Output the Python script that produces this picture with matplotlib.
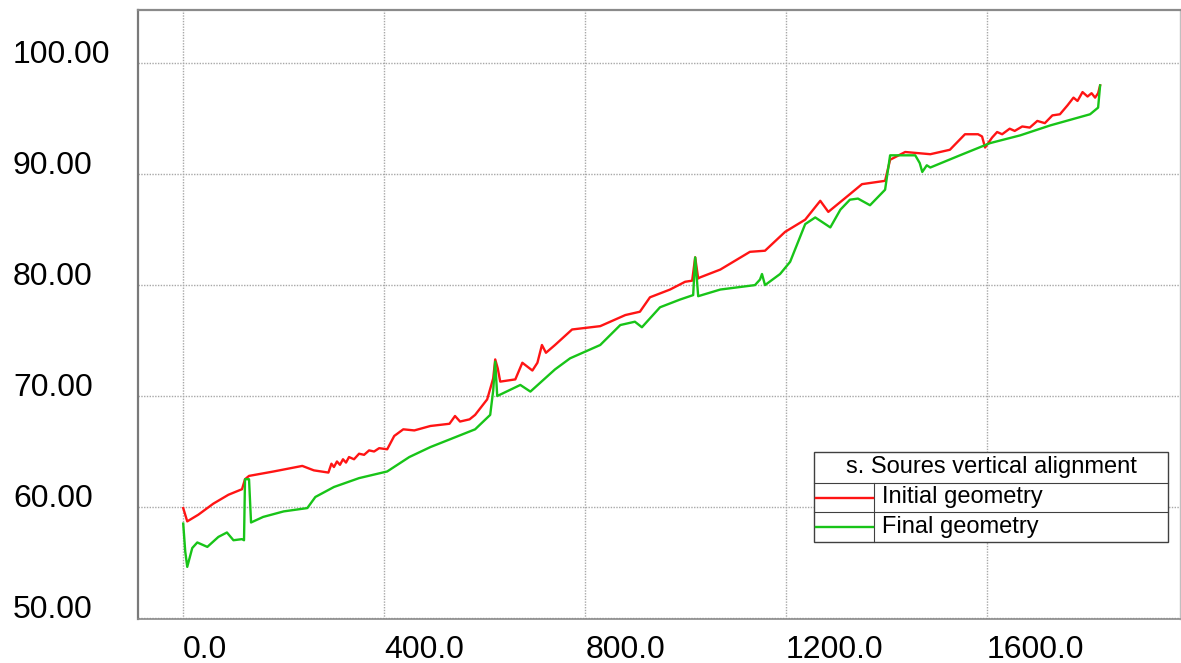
import matplotlib
matplotlib.use("Agg")
import matplotlib.pyplot as plt
from matplotlib.lines import Line2D
from matplotlib.patches import Rectangle

plt.rcParams['font.family'] = ['Liberation Sans', 'DejaVu Sans']

# Chainage (m) and elevation (m) of the vertical alignment
initial_x = [0, 8, 30, 60, 90, 117, 123, 131, 180, 237, 260, 289, 295, 300, 306, 312,
             318, 324, 330, 340, 350, 360, 370, 380, 390, 406, 420, 438, 460, 492, 511,
             530, 541, 551, 570, 581, 605, 612, 617, 621, 626, 631, 661, 675, 695, 705,
             714, 722, 740, 774, 830, 880, 909, 929, 969, 999, 1013, 1019, 1025, 1029,
             1069, 1128, 1158, 1198, 1238, 1268, 1284, 1327, 1351, 1397, 1407, 1437,
             1487, 1526, 1556, 1582, 1590, 1596, 1610, 1620, 1630, 1645, 1655, 1670,
             1685, 1700, 1715, 1730, 1745, 1760, 1772, 1780, 1790, 1800, 1808, 1815,
             1821, 1825]
initial_y = [59.9, 58.7, 59.3, 60.3, 61.1, 61.6, 62.5, 62.8, 63.2, 63.7, 63.3, 63.1,
             63.9, 63.6, 64.1, 63.8, 64.3, 64.0, 64.5, 64.3, 64.8, 64.7, 65.1, 65.0,
             65.3, 65.2, 66.4, 67.0, 66.9, 67.3, 67.4, 67.5, 68.2, 67.7, 67.9, 68.3,
             69.7, 70.8, 71.6, 73.3, 72.5, 71.3, 71.5, 73.0, 72.3, 73.0, 74.6, 73.9,
             74.6, 76.0, 76.3, 77.3, 77.6, 78.9, 79.6, 80.3, 80.4, 82.5, 80.6, 80.7,
             81.4, 83.0, 83.1, 84.8, 85.9, 87.6, 86.6, 88.2, 89.1, 89.4, 91.3, 92.0,
             91.8, 92.2, 93.6, 93.6, 93.4, 92.4, 93.3, 93.8, 93.6, 94.1, 93.9, 94.3,
             94.2, 94.8, 94.6, 95.3, 95.4, 96.2, 96.9, 96.6, 97.4, 97.0, 97.3, 96.9,
             97.3, 98.0]

final_x = [0, 4, 8, 18, 28, 48, 70, 87, 100, 117, 121, 123, 131, 135, 159, 200, 247,
           263, 300, 350, 406, 450, 492, 531, 581, 611, 617, 621, 625, 671, 691, 740,
           770, 810, 830, 870, 899, 913, 949, 989, 1015, 1019, 1025, 1069, 1138, 1148,
           1152, 1158, 1188, 1208, 1238, 1258, 1288, 1308, 1327, 1343, 1367, 1397, 1407,
           1457, 1466, 1471, 1480, 1487, 1546, 1606, 1666, 1726, 1805, 1821, 1825]
final_y = [58.5, 56.0, 54.6, 56.3, 56.8, 56.4, 57.3, 57.7, 57.0, 57.1, 57.0, 62.5,
           62.5, 58.6, 59.1, 59.6, 59.9, 60.9, 61.8, 62.6, 63.2, 64.5, 65.4, 66.1,
           67.0, 68.3, 70.5, 73.1, 70.0, 71.0, 70.4, 72.4, 73.4, 74.2, 74.6, 76.4,
           76.7, 76.2, 78.0, 78.7, 79.1, 82.5, 79.0, 79.6, 80.0, 80.5, 81.0, 80.0,
           81.0, 82.1, 85.5, 86.1, 85.2, 86.8, 87.7, 87.8, 87.2, 88.6, 91.7, 91.7,
           91.0, 90.2, 90.8, 90.6, 91.7, 92.8, 93.5, 94.4, 95.4, 96.0, 98.0]

xticks = [0, 400, 800, 1200, 1600]
xtick_labels = ['0.0', '400.0', '800.0', '1200.0', '1600.0']
yticks = [50, 60, 70, 80, 90, 100]
ytick_labels = ['50.00', '60.00', '70.00', '80.00', '90.00', '100.00']

legend_title = 's. Soures vertical alignment'
series_names = ['Initial geometry', 'Final geometry']
series_colors = ['#ff1414', '#18c418']

W, H = 1181, 663
fig = plt.figure(figsize=(W / 100, H / 100), dpi=100)
ax = fig.add_axes([138 / W, 1 - 619 / H, (1180 - 138) / W, (619 - 10) / H])

ax.plot(initial_x, initial_y, color=series_colors[0], lw=1.7, zorder=3)
ax.plot(final_x, final_y, color=series_colors[1], lw=1.7, zorder=3)

ax.set_xlim(-90, 1984)
ax.set_ylim(49.9, 104.8)

ax.set_xticks(xticks)
ax.set_xticklabels(xtick_labels)
ax.set_yticks(yticks)
ax.set_yticklabels(ytick_labels)
ax.tick_params(axis='both', length=0, labelsize=23)
ax.tick_params(axis='x', pad=11.5)
ax.tick_params(axis='y', pad=90)
for lab in ax.get_xticklabels():
    lab.set_horizontalalignment('left')
for lab in ax.get_yticklabels():
    lab.set_horizontalalignment('left')
    lab.set_verticalalignment('baseline')

ax.grid(True, color='#a8a8a8', lw=1.0, linestyle=(0, (1, 1)), zorder=0)

ax.spines['left'].set_color('#7a7a7a')
ax.spines['left'].set_linewidth(1.6)
ax.spines['top'].set_color('#8a8a8a')
ax.spines['top'].set_linewidth(1.6)
ax.spines['bottom'].set_color('#8a8a8a')
ax.spines['bottom'].set_linewidth(1.2)
ax.spines['right'].set_color('#c0c0c0')
ax.spines['right'].set_linewidth(1.0)


def fx(px):
    return px / W


def fy(py):
    return 1 - py / H


# Table-style legend box
lx0, lx1, ldiv = 814, 1168, 874
ly0, ly1, ly2, ly3 = 452, 483, 512, 542
box = Rectangle((fx(lx0), fy(ly3)), fx(lx1) - fx(lx0), fy(ly0) - fy(ly3),
                transform=fig.transFigure, facecolor='white', edgecolor='#404040',
                lw=1.0, zorder=5)
fig.add_artist(box)
for yy in (ly1, ly2):
    fig.add_artist(Line2D([fx(lx0), fx(lx1)], [fy(yy), fy(yy)], transform=fig.transFigure,
                          color='#404040', lw=0.8, zorder=6))
fig.add_artist(Line2D([fx(ldiv), fx(ldiv)], [fy(ly1), fy(ly3)], transform=fig.transFigure,
                      color='#404040', lw=0.8, zorder=6))
fig.text(fx((lx0 + lx1) / 2), fy((ly0 + ly1) / 2), legend_title, ha='center', va='center',
         fontsize=17, zorder=7)
for (ya, yb), name, col in zip([(ly1, ly2), (ly2, ly3)], series_names, series_colors):
    ym = fy((ya + yb) / 2)
    fig.add_artist(Line2D([fx(lx0 + 2), fx(ldiv - 1)], [ym, ym], transform=fig.transFigure,
                          color=col, lw=1.7, zorder=7))
    fig.text(fx(882), ym, name, ha='left', va='center', fontsize=17, zorder=7)

fig.savefig('out.png', dpi=100)
